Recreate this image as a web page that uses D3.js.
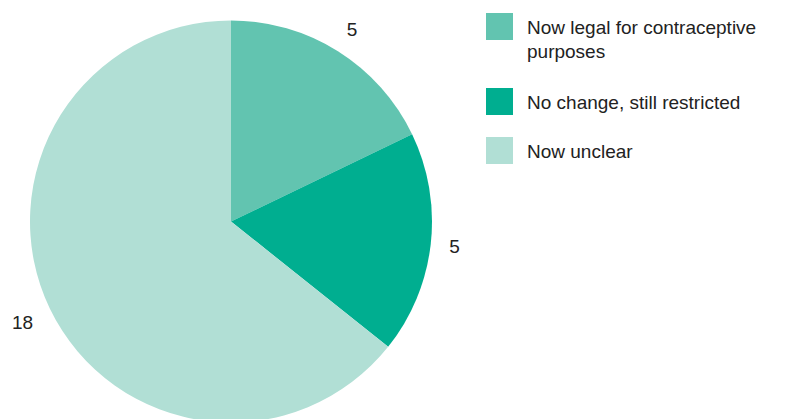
<!DOCTYPE html>
<html>
<head>
<meta charset="utf-8">
<script src="https://cdn.jsdelivr.net/npm/d3@7"></script>
<style>
  body { margin: 0; background: #fff; }
  svg { display: block; font-family: "Liberation Sans", Arial, sans-serif; }
</style>
</head>
<body>
<svg id="chart" width="787" height="419"></svg>
<script>
// Status categories and counts
const categories = ["Now legal for contraceptive purposes", "No change, still restricted", "Now unclear"];
const legendLines = [["Now legal for contraceptive", "purposes"], ["No change, still restricted"], ["Now unclear"]];
const counts = [5, 5, 18];
const colors = ["#62c4b0", "#00ae90", "#b1dfd5"];

const svg = d3.select("#chart");
const cx = 231, cy = 221.5, radius = 201, labelGap = 219;

const color = d3.scaleOrdinal().domain(categories).range(colors);

const pie = d3.pie().sort(null).value(d => d.value);
const data = pie(categories.map((c, i) => ({ name: c, value: counts[i] })));

const arc = d3.arc().innerRadius(0).outerRadius(radius);

const g = svg.append("g").attr("transform", `translate(${cx},${cy})`);

g.selectAll("path.slice")
  .data(data)
  .join("path")
  .attr("class", "slice")
  .attr("d", arc)
  .attr("fill", d => color(d.data.name));

// Value labels sit just outside the rim, pushed out by half their box
const capH = 13;
g.selectAll("text.value")
  .data(data)
  .join("text")
  .attr("class", "value")
  .attr("text-anchor", "middle")
  .attr("dy", "0.35em")
  .attr("font-size", 19)
  .attr("fill", "#222")
  .text(d => d.data.value)
  .attr("transform", function(d) {
    const a = (d.startAngle + d.endAngle) / 2;
    const sx = Math.sin(a), cy_ = -Math.cos(a);
    const w = this.getComputedTextLength();
    const r = labelGap + (w / 2) * Math.abs(sx) + (capH / 2) * Math.abs(cy_);
    return `translate(${r * sx},${r * cy_})`;
  });

// Legend
const legendY = [13, 88, 137];
const legend = svg.append("g").attr("transform", "translate(486,0)");
const items = legend.selectAll("g.item")
  .data(categories)
  .join("g")
  .attr("class", "item")
  .attr("transform", (d, i) => `translate(0,${legendY[i]})`);

items.append("rect")
  .attr("width", 27)
  .attr("height", 27)
  .attr("fill", d => color(d));

items.append("text")
  .attr("x", 41)
  .attr("y", 21)
  .attr("font-size", 19)
  .attr("fill", "#222")
  .selectAll("tspan")
  .data((d, i) => legendLines[i])
  .join("tspan")
  .attr("x", 41)
  .attr("dy", (d, j) => j === 0 ? 0 : 24)
  .text(d => d);
</script>
</body>
</html>
